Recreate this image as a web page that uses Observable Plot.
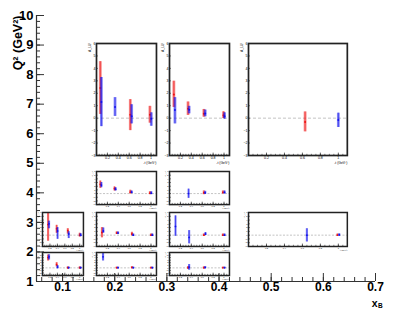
<!DOCTYPE html>
<html><head><meta charset="utf-8">
<script src="https://cdn.jsdelivr.net/npm/d3@7"></script>
<script src="https://cdn.jsdelivr.net/npm/@observablehq/plot@0.6"></script>
<style>
html,body{margin:0;padding:0;background:#fff;}
#chart{position:relative;width:399px;height:309px;overflow:hidden;font-family:"Liberation Sans",Arial,sans-serif;}
#chart svg{position:absolute;overflow:visible;background:transparent;max-width:none;}
</style></head><body><div id="chart"></div>
<script>
// ---- main axes ----
const xBTicks = [0.1, 0.2, 0.3, 0.4, 0.5, 0.6, 0.7];
const Q2Ticks = [1, 2, 3, 4, 5, 6, 7, 8, 9, 10];
const xBMinor = d3.range(0.06, 0.7001, 0.02);
const Q2Minor = d3.range(1, 10.001, 0.2);

// ---- inset axes ----
const tTicks = [0.2, 0.4, 0.6, 0.8, 1];
const tMinor = d3.range(0.05, 1.1, 0.05);
const aTicks = [-3, -2, -1, 0, 1, 2, 3, 4, 5, 6];

// ---- data: [-t, value, low, high] ----
const A_red  = [[0.07,2.43,0.30,4.54],[0.62,0.27,-1.00,1.49],[0.98,0.27,-0.40,0.95]];
const A_blue = [[0.09,1.30,-0.68,3.27],[0.34,0.90,0.14,1.65],[0.645,0.16,-0.46,1.08],[1.005,-0.05,-0.65,0.43]];
const B_red  = [[0.08,1.90,0.86,2.97],[0.34,0.76,0.22,1.30],[0.63,0.35,0.08,0.70],[0.99,0.24,-0.03,0.51]];
const B_blue = [[0.10,0.65,-0.46,1.65],[0.36,0.68,0.35,0.95],[0.655,0.38,0.11,0.65],[1.01,0.16,-0.08,0.43]];
const C_red  = [[0.63,-0.30,-1.10,0.50]];
const C_blue = [[1.00,-0.15,-0.75,0.40]];
const D_red  = [[0.07,2.50,1.44,3.40],[0.33,1.35,0.70,1.80],[0.62,0.36,-0.10,0.90],[0.98,0.10,-0.30,0.50]];
const D_blue = [[0.09,2.30,1.60,3.00],[0.35,1.20,0.70,1.60],[0.645,0.36,0.00,0.70],[1.005,0.10,-0.30,0.50]];
const E_red  = [[0.63,0.20,-0.30,0.70],[0.98,0.30,-0.10,0.70]];
const E_blue = [[0.35,0.00,-1.30,1.20],[0.655,0.20,-0.20,0.60],[1.01,0.30,-0.10,0.70]];
const F_red  = [[0.15,2.80,-1.60,6.00],[0.38,1.70,0.50,2.60],[0.68,1.20,0.30,1.70],[1.00,0.00,-0.50,0.50]];
const F_blue = [[0.175,3.00,1.70,3.70],[0.405,1.10,-1.10,2.00],[0.705,0.30,-0.90,0.90],[1.025,0.00,-0.40,0.40]];
const G_red  = [[0.10,0.70,-0.70,2.00],[0.37,0.55,0.25,0.85],[0.65,0.30,-0.20,0.75],[1.00,0.00,-0.30,0.30]];
const G_blue = [[0.125,1.10,0.50,1.90],[0.395,0.55,0.25,0.85],[0.675,0.00,-0.30,0.30],[1.025,0.00,-0.30,0.30]];
const H_red  = [[0.63,0.00,-0.30,0.30],[0.98,0.00,-0.30,0.30]];
const H_blue = [[0.11,2.30,-0.30,5.10],[0.36,-0.60,-2.30,1.20],[0.66,0.30,-0.10,0.70],[1.01,0.00,-0.30,0.30]];
const I_red  = [[0.99,0.00,-0.30,0.30]];
const I_blue = [[0.65,0.00,-1.80,1.70],[1.01,0.05,-0.25,0.35]];
const J_red  = [[0.15,4.00,2.70,5.00],[0.38,1.30,0.40,2.00],[0.68,0.00,-0.40,0.40],[1.00,0.00,-0.40,0.40]];
const J_blue = [[0.175,4.30,3.10,5.10],[0.405,0.30,-0.40,0.90],[0.705,0.00,-0.30,0.30],[1.025,0.00,-0.30,0.30]];
const K_red  = [[0.37,0.00,-0.30,0.30],[0.65,0.10,-0.30,0.50],[1.00,0.00,-0.30,0.30]];
const K_blue = [[0.12,4.30,2.70,5.60],[0.395,0.00,-0.30,0.30],[0.675,0.00,-0.30,0.30],[1.025,0.00,-0.30,0.30]];
const L_red  = [[0.34,0.00,-0.50,0.50],[0.63,0.00,-0.40,0.40],[0.98,0.00,-0.30,0.30]];
const L_blue = [[0.36,0.30,-0.90,1.30],[0.655,0.10,-0.30,0.50],[1.01,0.00,-0.30,0.30]];

// ---- inset layout: bin extents in (xB, Q2) ----
const colX = [[0.0615, 0.140], [0.165, 0.280], [0.305, 0.420], [0.4565, 0.646]];
const rowQ = {top: [5.26, 9.05], r4: [3.60, 4.72], r27: [2.18, 3.33], r18: [1.20, 1.98]};
const panels = [
  {col: 1, row: "top", red: A_red, blue: A_blue, big: true},
  {col: 2, row: "top", red: B_red, blue: B_blue, big: true},
  {col: 3, row: "top", red: C_red, blue: C_blue, big: true},
  {col: 1, row: "r4",  red: D_red, blue: D_blue},
  {col: 2, row: "r4",  red: E_red, blue: E_blue},
  {col: 0, row: "r27", red: F_red, blue: F_blue},
  {col: 1, row: "r27", red: G_red, blue: G_blue},
  {col: 2, row: "r27", red: H_red, blue: H_blue},
  {col: 3, row: "r27", red: I_red, blue: I_blue},
  {col: 0, row: "r18", red: J_red, blue: J_blue},
  {col: 1, row: "r18", red: K_red, blue: K_blue},
  {col: 2, row: "r18", red: L_red, blue: L_blue}
];

const FONT = '"Liberation Sans", Arial, Helvetica, sans-serif';
const container = document.getElementById("chart");

const main = Plot.plot({
  width: 399, height: 309,
  marginLeft: 36, marginRight: 24, marginTop: 15, marginBottom: 28,
  x: {domain: [0.05, 0.7]},
  y: {domain: [1, 10]},
  style: {fontFamily: FONT, background: "transparent", color: "#000"},
  marks: [
    Plot.axisX(xBMinor, {tickSize: -4, tickFormat: () => "", label: null, stroke: "#333"}),
    Plot.axisX(xBTicks, {tickSize: -8, tickPadding: 8.6, tickFormat: d => d.toFixed(1), fontSize: 12, fontWeight: "bold", label: null, stroke: "#333"}),
    Plot.axisY(Q2Minor, {tickSize: -4, tickFormat: () => "", label: null, stroke: "#333"}),
    Plot.axisY(Q2Ticks, {tickSize: -8, tickPadding: 11, fontSize: 13, fontWeight: "bold", label: null, stroke: "#333"}),
    Plot.ruleX([0.05], {stroke: "#333", strokeWidth: 1.2}),
    Plot.ruleY([1], {stroke: "#333", strokeWidth: 1.2}),
    Plot.text(["Q² (GeV²)"], {text: d => d, frameAnchor: "top-left", rotate: -90, textAnchor: "end", dx: -23, fontSize: 12.5, fontWeight: "bold"}),
    Plot.text(["x"], {text: d => d, frameAnchor: "bottom-right", textAnchor: "end", lineAnchor: "bottom", dx: 2, dy: 25.8, fontSize: 10.5, fontWeight: "bold"}),
    Plot.text(["B"], {text: d => d, frameAnchor: "bottom-right", textAnchor: "start", lineAnchor: "bottom", dx: 2.5, dy: 26, fontSize: 6.5, fontWeight: "bold"})
  ]
});
main.style.left = "0px"; main.style.top = "0px";
container.append(main);

const sx = main.scale("x"), sy = main.scale("y");
const RED = "#ee1111", BLUE = "#1111ee";

function toRows(arr) { return arr.map(([t, v, lo, hi]) => ({t, v, lo, hi})); }

for (const p of panels) {
  const [x0, x1] = colX[p.col];
  const [q0, q1] = rowQ[p.row];
  const left = sx.apply(x0), right = sx.apply(x1);
  const top = sy.apply(q1), bottom = sy.apply(q0);
  const w = right - left, h = bottom - top;
  const big = !!p.big;
  const fs = big ? 3.6 : 2.3;
  const titleFs = big ? 3.4 : 2.0;
  const titleDy = big ? fs * 1.6 : 3.4;
  const ml = 10, mr = 4, mt = 4, mb = big ? 12 : 8;
  const bw = big ? 2.8 : 2.2;
  const red = toRows(p.red), blue = toRows(p.blue);
  const errMarks = (data, col) => [
    Plot.ruleX(data, {x: "t", y1: "lo", y2: "hi", stroke: col, strokeOpacity: 0.5, strokeWidth: bw}),
    Plot.ruleX(data, {x: "t", y1: "lo", y2: "hi", stroke: col, strokeOpacity: 0.8, strokeWidth: 0.7}),
    Plot.dot(data, {x: "t", y: "v", r: big ? 1.0 : 0.9, fill: col, stroke: "none"})
  ];
  const inset = Plot.plot({
    width: w + ml + mr, height: h + mt + mb,
    marginLeft: ml, marginRight: mr, marginTop: mt, marginBottom: mb,
    x: {domain: [0, 1.1]},
    y: {domain: [-3, 6]},
    style: {fontFamily: FONT, fontSize: fs + "px", background: "transparent", color: "#000"},
    marks: [
      Plot.ruleY([0], {stroke: "#aaa", strokeDasharray: big ? "3,2" : "2,1.5", strokeWidth: 0.7}),
      ...errMarks(red, RED),
      ...errMarks(blue, BLUE),
      Plot.axisX(tMinor, {tickSize: -1.2, tickFormat: () => "", label: null, strokeWidth: 0.5}),
      Plot.axisX(tTicks, {tickSize: -2.4, tickPadding: 3.4, tickFormat: d => d === 1 ? "1" : d.toFixed(1), fontSize: fs, label: null, strokeWidth: 0.6}),
      Plot.axisY(aTicks, {tickSize: -1.8, tickPadding: 2.8, fontSize: fs, label: null, strokeWidth: 0.6}),
      Plot.text(["-t (GeV²)"], {text: d => d, frameAnchor: "bottom-right", textAnchor: "end", lineAnchor: "top", dy: titleDy, fontSize: titleFs}),
      Plot.text(["A_LU"], {text: d => d, frameAnchor: "top-left", rotate: -90, textAnchor: "end", dx: -fs * 2.2, fontSize: titleFs}),
      Plot.frame({stroke: "#222", strokeWidth: big ? 1.7 : 1.5})
    ]
  });
  inset.style.left = (left - ml) + "px";
  inset.style.top = (top - mt) + "px";
  container.append(inset);
}
</script>
</body></html>
